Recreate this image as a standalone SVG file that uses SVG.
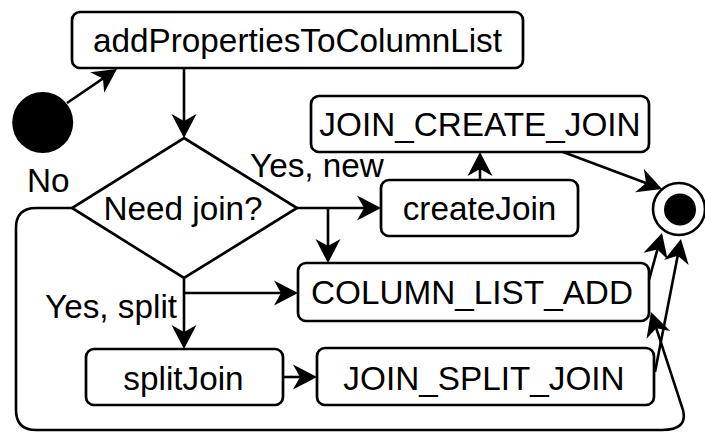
<svg xmlns="http://www.w3.org/2000/svg" width="705" height="432" viewBox="0 0 705 432">
  <style>
    .box { fill: #fff; stroke: #000; stroke-width: 2.7; }
    .lbl { font-family: "Liberation Sans", Arial, Helvetica, sans-serif; font-size: 33.3px; fill: #000; }
    .mid { text-anchor: middle; }
    .edge { fill: none; stroke: #000; stroke-width: 2.6; marker-end: url(#arr); }
  </style>
  <defs>
    <!-- notched arrowhead; tip sits 3px past the path end -->
    <marker id="arr" markerUnits="userSpaceOnUse" markerWidth="30" markerHeight="30" refX="24" refY="0" orient="auto" overflow="visible">
      <path d="M27,0 L3,-12.5 L10,0 L3,12.5 Z" fill="#000"/>
    </marker>
  </defs>
  <rect width="705" height="432" fill="#fff"/>

  <!-- nodes -->
  <g id="start">
    <circle cx="42.7" cy="122.5" r="30.5" fill="#000"/>
  </g>
  <g id="addProperties">
    <rect class="box" x="72" y="12" width="451" height="56" rx="8"/>
    <text class="lbl mid" x="297.5" y="52">addPropertiesToColumnList</text>
  </g>
  <g id="needJoin">
    <polygon class="box" points="184,138 297,208 184,278 72,208"/>
    <text class="lbl mid" x="183" y="220">Need join?</text>
  </g>
  <g id="joinCreateJoin">
    <rect class="box" x="311" y="96" width="338" height="56" rx="8"/>
    <text class="lbl mid" x="480" y="136">JOIN_CREATE_JOIN</text>
  </g>
  <g id="createJoin">
    <rect class="box" x="381" y="180" width="197" height="56" rx="8"/>
    <text class="lbl mid" x="479.5" y="220">createJoin</text>
  </g>
  <g id="columnListAdd">
    <rect class="box" x="298" y="263" width="351" height="58" rx="8"/>
    <text class="lbl mid" x="472" y="304">COLUMN_LIST_ADD</text>
  </g>
  <g id="splitJoin">
    <rect class="box" x="86" y="349" width="197" height="56" rx="8"/>
    <text class="lbl mid" x="183.5" y="390">splitJoin</text>
  </g>
  <g id="joinSplitJoin">
    <rect class="box" x="317" y="348" width="337" height="57" rx="8"/>
    <text class="lbl mid" x="484" y="390">JOIN_SPLIT_JOIN</text>
  </g>
  <g id="end">
    <circle cx="679" cy="209" r="26" fill="#fff" stroke="#000" stroke-width="2.6"/>
    <circle cx="680" cy="209.5" r="16" fill="#000"/>
  </g>

  <!-- connectors -->
  <g id="connectors">
    <path class="edge" d="M67,103 L114.5,70.7"/>
    <path class="edge" d="M184,68 L184,135"/>
    <path class="edge" d="M297,208 L378,208"/>
    <path class="edge" d="M328,208 L328,260"/>
    <path class="edge" d="M480,180 L480,155"/>
    <path class="edge" d="M563,152 L659.2,188"/>
    <path class="edge" d="M184,278 L184,346"/>
    <path class="edge" d="M184,293 L295,293"/>
    <path class="edge" d="M283,377 L314,377"/>
    <path class="edge" d="M649,280 L661.2,235.9"/>
    <path class="edge" d="M655,372 L680.4,241.9"/>
    <path class="edge" d="M72,208 L36,208 Q16,208 16,228 L16,410 Q16,430 36,430 L662,430 Q688,430 683,410 L651.9,314.9"/>
  </g>

  <!-- edge labels -->
  <g id="labels">
    <text class="lbl" x="27" y="192">No</text>
    <text class="lbl" x="250" y="177">Yes, new</text>
    <text class="lbl" x="45" y="318">Yes, split</text>
  </g>
</svg>
